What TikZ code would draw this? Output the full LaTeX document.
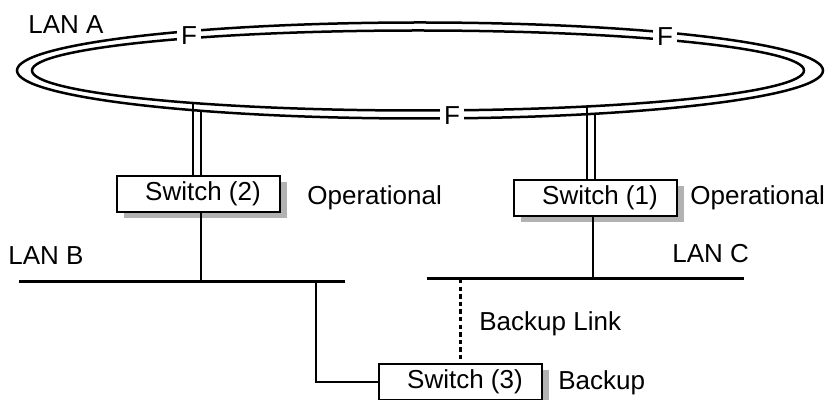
\documentclass[tikz,border=0pt]{standalone}
\usepackage{fontspec}
\setmainfont{Liberation Sans}
\usetikzlibrary{shadows}
\tikzset{
  ring/.style={line width=1.25pt},
  flabel/.style={fill=white, inner xsep=1.8pt, inner ysep=2pt, font=\fontsize{13}{15}\selectfont},
  lbl/.style={font=\fontsize{13}{15}\selectfont, inner sep=0pt, anchor=base west},
  swbox/.style={draw, line width=0.6pt, fill=white, minimum width=81.5pt, minimum height=18pt, inner sep=0pt,
    font=\fontsize{13}{15}\selectfont,
    drop shadow={shadow xshift=3.5pt, shadow yshift=-3pt, fill=gray!60, opacity=1}},
  dbl/.style={line width=0.6pt},
  bus/.style={line width=1.5pt},
  tap/.style={line width=1pt},
  backup/.style={line width=1.2pt, dash pattern=on 2.2pt off 1.6pt}
}
\begin{document}
\begin{tikzpicture}[x=0.5pt,y=-0.5pt]
\useasboundingbox (0,0) rectangle (830,400);
% LAN A ring
\draw[ring] (420,70.5) ellipse [x radius=201.5pt, y radius=24pt];
\draw[ring] (418,70.5) ellipse [x radius=193pt, y radius=20pt];
\node[flabel] (f1) at (189,36) {F};
\node[flabel] (f2) at (665,37) {F};
\node[flabel] (f3) at (452,116) {F};
\node[lbl] (lanA) at (28,34) {LAN A};
% switches
\node[swbox] (sw2) at (198.5,194) {\hspace{4.5pt}Switch (2)};
\node[swbox] (sw1) at (595.5,198) {\hspace{4.5pt}Switch (1)};
\node[swbox] (sw3) at (460.5,382) {\hspace{4.5pt}Switch (3)};
\node[lbl] (op2) at (307,205) {Operational};
\node[lbl] (op1) at (690,205) {Operational};
\node[lbl] (bk3) at (558,390) {Backup};
% ring attachments
\coordinate (a2i) at (193,103);
\coordinate (a2o) at (201,111);
\coordinate (a1i) at (587,106.5);
\coordinate (a1o) at (595,113.7);
\draw[dbl] (a2i) -- (a2i |- sw2.north);
\draw[dbl] (a2o) -- (a2o |- sw2.north);
\draw[dbl] (a1i) -- (a1i |- sw1.north);
\draw[dbl] (a1o) -- (a1o |- sw1.north);
% LAN B
\coordinate (lanBl) at (19,282);
\coordinate (lanBr) at (345,282);
\draw[bus] (lanBl) -- (lanBr);
\node[lbl] (lanB) at (8,265) {LAN B};
\coordinate (tapB2) at (201,282);
\coordinate (tapB3) at (316,282);
\draw[tap] (sw2.south -| tapB2) -- (tapB2);
\draw[tap] (tapB3) |- (sw3.west);
% LAN C
\coordinate (lanCl) at (427,279);
\coordinate (lanCr) at (744,279);
\draw[bus] (lanCl) -- (lanCr);
\node[lbl] (lanC) at (672,263) {LAN C};
\coordinate (tapC1) at (593,279);
\coordinate (tapC3) at (460.5,279);
\draw[tap] (sw1.south -| tapC1) -- (tapC1);
\draw[backup] (tapC3) -- (sw3.north);
\node[lbl] (bl) at (479,331) {Backup Link};
\end{tikzpicture}
\end{document}
